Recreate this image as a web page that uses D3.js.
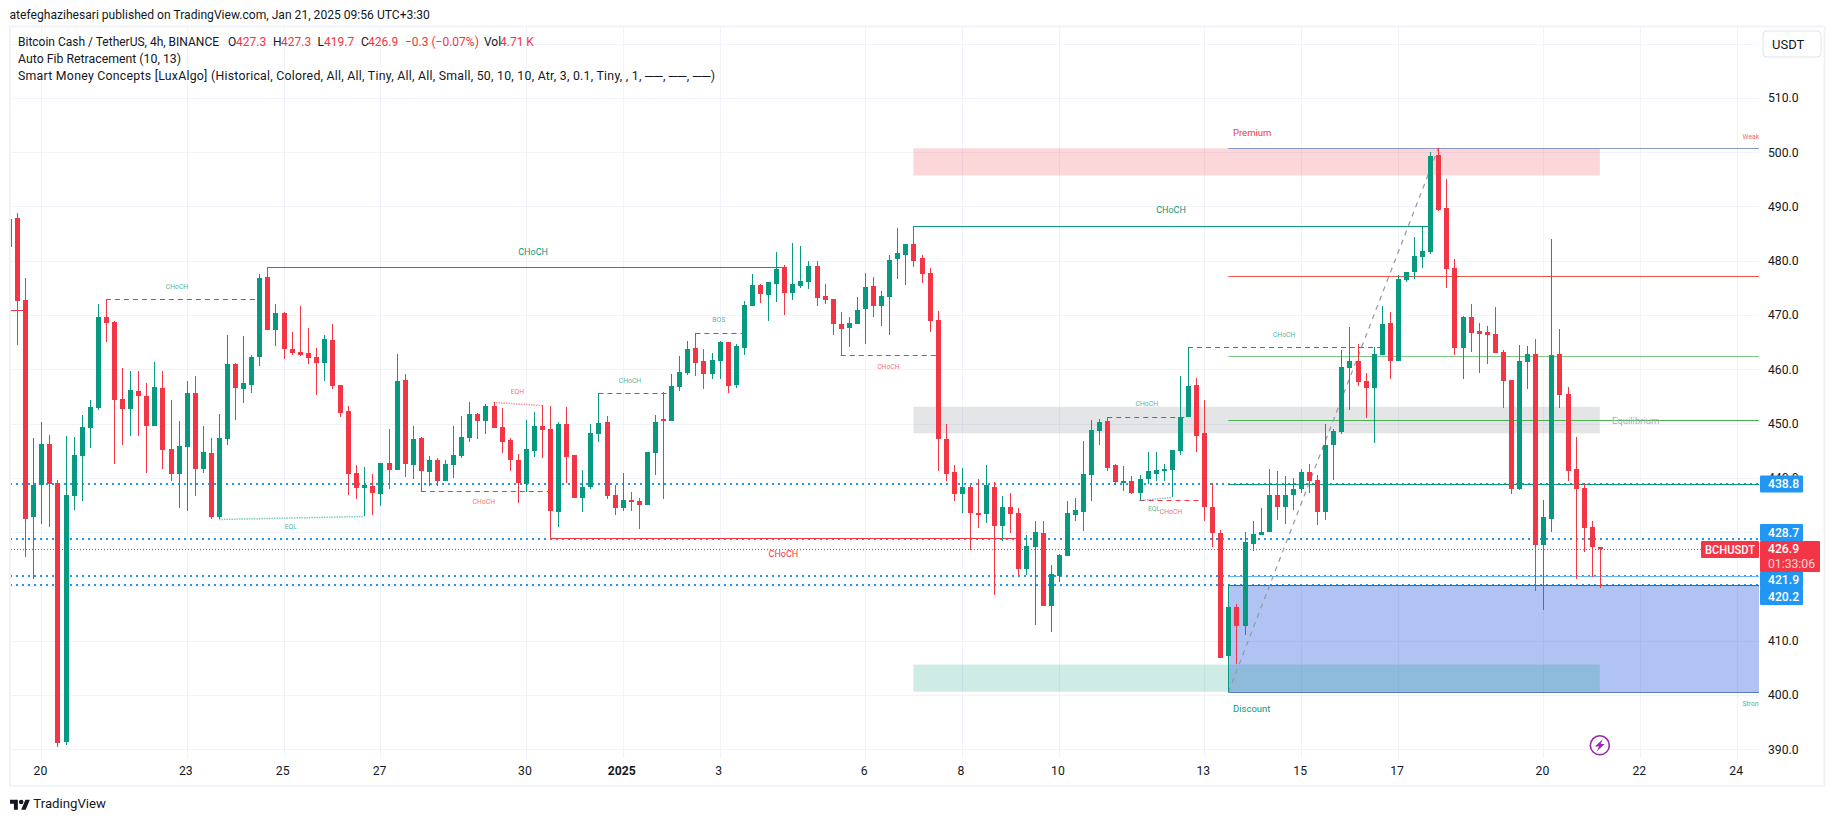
<!DOCTYPE html>
<html><head><meta charset="utf-8">
<script src="https://cdnjs.cloudflare.com/ajax/libs/d3/7.8.5/d3.min.js"></script>
<style>html,body{margin:0;padding:0;background:#fff;overflow:hidden}svg{display:block;font-family:Roboto,sans-serif}</style>
</head><body><div id="chart"></div>
<script>
// --- data -----------------------------------------------------------------
const firstIndex = -1; // the first candle is cut by the left pane edge
const opens = [482.6,
487.9,472.8,432.8,438.7,446.3,439.1,391.3,436.6,444.0,449.2,
452.9,469.6,468.7,454.5,452.7,456.0,455.1,449.5,456.6,445.3,
440.7,445.7,455.6,441.6,444.6,432.8,447.2,461.0,456.4,457.1,
462.2,477.0,467.2,470.4,463.7,463.2,463.0,462.2,461.2,465.4,
457.1,452.3,440.9,438.2,438.5,437.0,442.8,441.4,458.0,442.4,
447.4,441.1,443.3,439.5,442.4,444.0,447.4,451.8,450.5,453.2,
449.4,447.0,443.3,438.9,445.0,449.6,449.0,433.7,449.9,444.2,
436.3,438.3,448.1,450.3,436.9,434.5,435.9,435.8,435.0,444.6,
450.8,450.5,456.7,459.3,463.9,461.5,459.1,461.5,465.0,457.1,
463.9,471.6,475.5,473.7,475.7,478.8,474.0,475.3,476.1,479.0,
473.5,473.0,468.4,467.6,468.4,471.1,475.4,471.7,473.3,480.3,
481.0,483.0,480.5,477.7,469.1,447.2,441.0,437.0,438.4,433.6,
433.3,438.4,431.1,434.6,433.6,423.2,427.2,429.8,416.4,421.9,
425.6,433.1,433.8,440.6,448.7,450.5,442.3,439.2,439.5,437.3,
439.7,440.8,441.3,441.5,445.0,451.3,457.1,448.2,434.6,429.9,
407.1,416.3,412.8,427.9,429.4,430.0,436.8,434.7,436.9,437.9,
441.0,439.6,433.8,446.1,448.5,460.3,461.5,457.9,456.6,462.7,
468.6,461.5,476.5,478.0,480.7,481.6,499.5,489.7,478.7,464.0,
469.6,467.1,466.9,466.5,463.2,458.1,438.0,461.4,462.9,427.7,
432.5,462.9,455.5,441.7,438.2,431.0,427.3];
const highs = [487.7,
488.8,476.8,447.4,450.3,447.9,439.6,447.7,447.5,451.6,454.3,
472.0,472.9,468.9,460.3,459.7,459.7,457.5,461.3,459.7,454.3,
450.4,457.8,458.7,449.5,447.4,451.8,466.3,461.2,466.1,462.6,
477.6,478.8,472.0,470.5,466.8,471.6,467.6,464.0,466.3,468.3,
457.1,453.2,442.4,442.0,440.7,442.8,449.0,462.8,459.1,449.5,
447.6,444.0,443.7,443.3,449.6,451.4,454.0,452.0,453.6,454.0,
452.9,447.4,444.4,450.7,452.1,453.4,453.2,450.3,453.0,444.3,
441.5,449.9,455.6,451.4,438.7,440.9,437.4,436.3,444.8,451.6,
455.8,459.1,462.4,465.2,466.6,463.7,463.0,465.2,465.0,464.7,
472.6,477.5,475.7,476.1,481.6,479.2,483.2,482.7,479.9,480.0,
475.7,473.0,470.6,469.7,473.3,477.7,477.0,474.4,481.0,486.0,
483.0,486.4,481.0,478.7,470.7,450.0,442.3,441.9,438.6,439.7,
442.3,439.2,436.6,437.3,434.4,429.4,432.0,432.0,423.9,425.9,
435.7,436.2,446.7,450.7,450.9,451.3,442.6,442.1,440.4,440.6,
444.8,444.7,442.5,445.2,458.8,464.1,458.3,454.4,439.0,430.4,
420.4,416.8,430.0,432.1,434.5,441.7,441.3,440.4,439.9,441.7,
442.6,440.5,450.0,449.0,463.6,467.8,464.7,459.4,464.1,471.7,
470.6,477.3,478.0,484.3,486.3,500.0,500.7,495.0,480.4,469.8,
472.0,468.6,468.0,471.5,463.6,458.1,464.5,464.2,465.6,436.0,
484.0,467.5,456.8,447.6,439.0,432.0,427.3];
const lows = [482.6,
464.5,425.4,421.4,431.5,430.9,390.4,390.8,434.1,435.7,445.5,
452.5,465.0,442.6,446.0,447.7,447.7,440.9,449.5,441.6,439.4,
434.5,433.9,436.6,440.9,432.4,432.4,446.0,450.6,453.8,455.7,
460.6,467.2,464.3,461.9,462.6,462.4,461.0,455.3,457.8,456.4,
451.2,436.8,436.1,432.9,433.2,434.8,438.0,441.4,440.1,439.8,
437.5,438.5,438.5,439.5,440.0,443.7,446.6,447.2,448.1,449.2,
444.6,441.3,435.4,437.4,443.9,443.7,428.9,431.0,439.1,436.3,
433.7,438.0,446.6,436.1,433.2,433.9,433.9,430.6,435.0,440.5,
436.1,450.5,456.0,459.0,458.8,456.4,458.2,458.2,455.6,456.6,
462.6,471.6,472.2,468.9,472.4,470.0,472.8,475.0,474.8,471.7,
472.0,466.3,462.6,464.1,468.4,464.7,469.7,468.0,466.3,476.6,
475.5,478.8,475.9,466.9,441.3,439.5,435.7,433.5,426.7,430.7,
431.6,418.4,428.3,429.8,422.1,422.1,412.9,416.4,411.6,420.8,
425.6,432.0,430.2,435.7,446.0,441.2,438.6,437.5,437.0,435.9,
438.8,439.5,439.5,436.5,444.3,451.3,444.7,432.0,427.2,406.9,
400.5,405.8,411.0,426.5,429.4,430.0,432.3,431.5,434.0,437.2,
437.3,431.3,432.2,439.6,448.0,452.5,457.0,451.0,446.5,462.7,
458.2,461.5,476.0,476.7,478.6,481.3,489.2,474.9,462.7,458.2,
463.2,459.4,461.0,463.0,452.9,437.0,437.7,456.4,419.1,415.6,
430.0,452.8,439.5,421.3,426.4,421.7,419.7];
const closes = [487.7,
472.6,432.5,438.7,446.3,438.9,391.2,436.8,444.2,449.3,453.0,
469.6,468.6,454.3,452.7,456.2,455.1,449.5,456.7,445.1,440.7,
445.8,455.6,441.6,444.7,432.8,447.4,461.0,456.6,457.5,462.2,
476.8,467.2,470.4,463.7,463.0,462.6,462.1,461.2,465.6,456.9,
452.0,440.7,438.2,438.7,437.2,442.8,441.4,457.8,442.5,447.2,
441.3,443.3,439.5,442.6,444.2,447.5,451.8,450.5,453.2,449.2,
446.6,443.3,439.1,445.3,449.6,448.8,433.9,449.9,443.9,436.3,
438.3,448.3,450.1,436.7,434.5,435.9,435.6,435.0,444.8,450.3,
450.5,456.9,459.5,463.7,461.2,459.1,461.7,465.0,456.9,464.3,
471.8,475.5,473.9,476.1,478.5,474.0,475.7,476.3,479.0,473.1,
472.8,468.4,467.4,468.5,470.9,475.2,471.7,473.5,480.1,481.4,
483.0,480.0,477.5,468.9,447.1,440.8,437.0,438.4,433.5,433.3,
438.6,431.1,434.6,433.3,423.2,427.4,430.0,416.4,422.2,425.7,
433.5,434.0,440.8,448.9,450.2,441.9,439.2,439.5,437.3,439.7,
441.2,441.5,441.7,445.2,451.3,457.0,447.8,434.6,429.8,406.9,
416.3,412.8,428.1,429.6,430.0,436.8,434.7,436.9,438.0,441.0,
439.5,433.8,446.1,448.7,460.5,461.5,457.7,456.6,462.8,468.4,
461.5,476.7,478.0,480.9,481.8,499.3,489.4,478.5,464.0,469.6,
466.7,466.5,466.3,463.0,457.9,438.0,461.5,462.9,427.7,432.7,
462.7,455.3,441.3,438.0,430.8,427.2,426.9];

const priceTicks = [390,400,410,420,430,440,450,460,470,480,490,500,510,520];
const hiddenPriceTickLabels = [420,430,520]; // covered by the axis tags or the currency button
const dateTickIndex = [3,21,33,45,63,75,87,105,117,129,147,159,171,189,201,213];
const dateTickLabels = ["20","23","25","27","30","2025","3","6","8","10","13","15","17","20","22","24"];

// zones: [from, to, top price, bottom price]
const premiumZone = [111,196,500.7,495.7];
const equilibriumZone = [111,196,453.1,448.2];
const discountZone = [111,196,405.6,400.6];
const orderBlock = [150,260,420.2,400.5];

// fib-like levels starting at the swing low
const fibStart = 150;
const fibLevels = [500.7,477.1,462.4,450.6,438.85,421.9,420.2,400.5];
const fibColors = ["#8b97c4","#f0564a","#81c784","#4caf50","#089981","#64b5f6","#2962ff","#5b79b5"];
const fibDiagonal = [[150,400.5],[176,500.7]];

// alert price lines
const priceLineValues = [438.8,428.7,421.9,420.2];
const lastPrice = 426.9;

// market-structure lines: [from, to, price at from, price at to]
const solidGreen = [[31,95,478.8,478.8],[111,175,486.3,486.3]];
const solidRed = [[66,124,428.95,428.95]];
const dashGreen = [[11,30,472.9,472.9],[72,81,455.6,455.6],[84,90,466.6,466.6],[135,145,451.2,451.2],[145,169,464.1,464.1]];
const dashRed = [[50,66,437.5,437.5],[102,114,462.6,462.6],[139,147,436.0,436.0]];
const dotGreen = [[25,43,432.4,432.9],[139,143,436.0,436.5]];
const dotRed = [[59,65,453.9,453.4]];
const leftStub = [-1,1,471.0,471.0];

// text labels: [text, index, price, size class]
const greenLabels = [["CHoCH",19.8,475.2,"s"],["EQL",33.9,430.9,"s"],["CHoCH",75.9,457.8,"s"],["BOS",86.9,469.0,"s"],["CHoCH",139.9,453.6,"s"],["CHoCH",156.9,466.4,"s"],["EQL",140.8,434.2,"s"],["CHoCH",63.9,481.66,"m"],["CHoCH",142.9,489.3,"m"]];
const redLabels = [["CHoCH",57.8,435.6,"s"],["EQH",61.95,455.8,"s"],["CHoCH",107.9,460.4,"s"],["CHoCH",142.9,433.8,"s"],["CHoCH",94.9,426.0,"m"]];
const zoneLabels = [["Premium",503.6,"#f23645"],["Equilibrium",450.5,"#a8abb5"],["Discount",397.6,"#089981"]];
const edgeLabels = [["Weak High",502.8,"#f23645"],["Strong Low",398.4,"#089981"]];

const headerText = "atefeghazihesari published on TradingView.com, Jan 21, 2025 09:56 UTC+3:30";
const legendTitle = "Bitcoin Cash / TetherUS, 4h, BINANCE";
const legendFields = [["O",228,"k"],["427.3",236,"r"],["H",273,"k"],["427.3",281,"r"],["L",317.5,"k"],["419.7",324,"r"],["C",361,"k"],["426.9",368,"r"],["−0.3 (−0.07%)",405,"r"],["Vol",484,"k"],["4.71 K",500,"r"]];
const legendLines = ["Auto Fib Retracement (10, 13)","Smart Money Concepts [LuxAlgo] (Historical, Colored, All, All, Tiny, All, All, Small, 50, 10, 10, Atr, 3, 0.1, Tiny, , 1, ──, ──, ──)"];
const legendLineWidths = [163,697];

// --- layout ----------------------------------------------------------------
const W=1835,H=821, paneL=11, paneR=1759, paneT=27, paneB=758;
const RED="#f23645", GREEN="#089981", BLUE="#2196f3", GRID="#f0f3fa", TEXT="#131722";
const svg=d3.select("#chart").append("svg").attr("width",W).attr("height",H).style("background","#fff");
const x=d3.scaleLinear().domain([3,189]).range([41.3,1543.3]);
const y=d3.scaleLinear().domain([490,390]).range([206.4,749.3]);
const snap=v=>Math.round(v)+0.5;

svg.append("defs").append("clipPath").attr("id","pane").append("rect")
  .attr("x",paneL).attr("y",paneT).attr("width",paneR-paneL).attr("height",paneB-paneT);

// frame
svg.append("rect").attr("x",10).attr("y",26.5).attr("width",1814.5).attr("height",759.5)
  .attr("fill","none").attr("stroke",GRID).attr("stroke-width",2);

// axes (gridlines + labels)
const yAxis=d3.axisRight(y).tickValues(priceTicks.filter(d=>!hiddenPriceTickLabels.includes(d))).tickSize(0).tickPadding(0)
  .tickFormat(d3.format(".1f"));
const gy=svg.append("g").attr("transform",`translate(1768,0)`).call(yAxis);
gy.select(".domain").remove();
gy.selectAll("text").attr("font-family","Roboto").attr("font-size",12.2).attr("fill",TEXT);

const xAxis=d3.axisBottom(x).tickValues(dateTickIndex).tickSize(0).tickPadding(0)
  .tickFormat((d,i)=>dateTickLabels[i]);
const gx=svg.append("g").attr("transform",`translate(-1.4,766.5)`).call(xAxis);
gx.select(".domain").remove();
gx.selectAll("text").attr("font-family","Roboto").attr("font-size",12.2).attr("fill",TEXT)
  .attr("font-weight",(d,i)=>dateTickLabels[i]==="2025"?700:400);

const plot=svg.append("g").attr("clip-path","url(#pane)");
plot.append("g").selectAll("line").data(priceTicks).join("line")
  .attr("x1",paneL).attr("x2",paneR).attr("y1",d=>snap(y(d))).attr("y2",d=>snap(y(d))).attr("stroke",GRID);
plot.append("g").selectAll("line").data(dateTickIndex).join("line")
  .attr("y1",paneT).attr("y2",paneB).attr("x1",d=>Math.round(x(d))+.5).attr("x2",d=>Math.round(x(d))+.5).attr("stroke",GRID);

// zones
function zone(z,fill){plot.append("rect").attr("x",x(z[0])).attr("width",x(z[1])-x(z[0]))
  .attr("y",y(z[2])).attr("height",y(z[3])-y(z[2])).attr("fill",fill);}
zone(orderBlock,"rgba(42,92,222,.37)");
zone(premiumZone,"rgba(242,54,69,.2)");
zone(equilibriumZone,"rgba(120,123,134,.2)");
zone(discountZone,"rgba(8,153,129,.2)");

// price lines
plot.append("g").selectAll("line").data(priceLineValues).join("line")
  .attr("x1",paneL-1).attr("x2",paneR).attr("y1",d=>Math.round(y(d))).attr("y2",d=>Math.round(y(d)))
  .attr("stroke",BLUE).attr("stroke-width",2).attr("stroke-dasharray","2 4");
plot.append("line").attr("x1",paneL).attr("x2",1701).attr("y1",snap(y(lastPrice))).attr("y2",snap(y(lastPrice)))
  .attr("stroke",RED).attr("stroke-dasharray","1 2");

// fib levels
plot.append("g").selectAll("line").data(fibLevels).join("line")
  .attr("x1",x(fibStart)).attr("x2",paneR).attr("y1",d=>snap(y(d))).attr("y2",d=>snap(y(d)))
  .attr("stroke",(d,i)=>fibColors[i]);
plot.append("line").attr("x1",x(fibDiagonal[0][0])).attr("y1",y(fibDiagonal[0][1]))
  .attr("x2",x(fibDiagonal[1][0])).attr("y2",y(fibDiagonal[1][1]))
  .attr("stroke","#9598a1").attr("stroke-width",1.2).attr("stroke-dasharray","5 5");

// structures
function seg(data,color,dash,op,sw){
  plot.append("g").selectAll("line").data(data).join("line")
   .attr("x1",d=>x(d[0])).attr("x2",d=>x(d[1])).attr("y1",d=>snap(y(d[2]))).attr("y2",d=>snap(y(d[3])))
   .attr("stroke",color).attr("stroke-dasharray",dash).attr("stroke-opacity",op).attr("stroke-width",sw);
}
seg(solidGreen,GREEN,null,1,1);
seg(solidRed,RED,null,1,1);
seg([leftStub],RED,null,1,1);
seg(dashGreen,GREEN,"5 4",1,1);
seg(dashRed,RED,"5 4",1,1);
seg(dotGreen,GREEN,"1.5 1",.5,1.5);
seg(dotRed,RED,"1.5 1",.5,1.5);

// candles
const candleData=opens.map((o,i)=>({i:i+firstIndex,o,h:highs[i],l:lows[i],c:closes[i]}));
const cg=plot.append("g").selectAll("g").data(candleData).join("g")
  .attr("fill",d=>d.c>=d.o?GREEN:RED);
cg.append("rect").attr("x",d=>Math.round(x(d.i))).attr("width",1)
  .attr("y",d=>Math.round(y(d.h))).attr("height",d=>Math.max(1,Math.round(y(d.l))-Math.round(y(d.h))));
cg.append("rect").attr("x",d=>Math.round(x(d.i))-2).attr("width",5)
  .attr("y",d=>Math.round(y(Math.max(d.o,d.c))))
  .attr("height",d=>Math.max(2,Math.round(y(Math.min(d.o,d.c)))-Math.round(y(Math.max(d.o,d.c)))));

// structure text
function labels(data,color){
  plot.append("g").selectAll("text").data(data).join("text")
    .attr("x",d=>x(d[1])).attr("y",d=>y(d[2])).attr("text-anchor","middle").attr("dominant-baseline","central")
    .attr("font-size",d=>d[3]==="m"?9:6.8).attr("fill",color).attr("fill-opacity",d=>d[3]==="m"?1:.75).text(d=>d[0]);
}
labels(greenLabels,GREEN);
labels(redLabels,RED);
plot.append("g").selectAll("text").data(zoneLabels).join("text")
  .attr("x",d=>d[0]==="Equilibrium"?1612:1233).attr("y",d=>y(d[1])).attr("dominant-baseline","central")
  .attr("font-size",9.5).attr("fill",d=>d[2]).text(d=>d[0]);
plot.append("g").selectAll("text").data(edgeLabels).join("text")
  .attr("x",1742.5).attr("y",d=>y(d[1])).attr("dominant-baseline","central")
  .attr("font-size",6.8).attr("fill",d=>d[2]).attr("fill-opacity",.8).text(d=>d[0]);

// lightning marker
const bolt=svg.append("g").attr("transform",`translate(${x(196)},745.3)`);
bolt.append("circle").attr("r",9.5).attr("fill","#fff").attr("stroke","#9c27b0").attr("stroke-width",1.6);
bolt.append("path").attr("d","M3-6 L-5 1.2 H-0.8 L-3 6 L5-1.2 H0.8 Z").attr("fill","#9c27b0");

// axis tags
function tag(px,py,w,h,fill,r){return svg.append("rect").attr("x",px).attr("y",py).attr("width",w).attr("height",h).attr("fill",fill).attr("rx",r||1);}
const tagH=17;
priceLineValues.forEach(v=>{
  let cy=Math.round(y(v));
  if(v===421.9) cy=580; if(v===420.2) cy=596.5;
  if(v===428.7) cy=532.5;
  tag(1760,cy-tagH/2,43,tagH,BLUE);
  svg.append("text").attr("x",1768).attr("y",cy).attr("dominant-baseline","central").attr("font-size",12.2).attr("font-weight",500).attr("fill","#fff").text(d3.format(".1f")(v));
});
tag(1760,541,60,31,RED);
svg.append("text").attr("x",1768).attr("y",549).attr("dominant-baseline","central").attr("font-size",12.2).attr("font-weight",500).attr("fill","#fff").text(d3.format(".1f")(lastPrice));
svg.append("text").attr("x",1768).attr("y",563.7).attr("dominant-baseline","central").attr("font-size",12.2).attr("fill","#fff").attr("fill-opacity",.8).text("01:33:06");
tag(1701,541,58,17,RED);
svg.append("text").attr("x",1705).attr("y",549.5).attr("dominant-baseline","central").attr("font-size",12).attr("font-weight",500).attr("fill","#fff").attr("textLength",50).attr("lengthAdjust","spacingAndGlyphs").text("BCHUSDT");

// currency button
svg.append("rect").attr("x",1763).attr("y",31).attr("width",58).attr("height",26).attr("rx",4).attr("fill","#fff").attr("stroke","#e0e3eb");
svg.append("text").attr("x",1772).attr("y",44.5).attr("dominant-baseline","central").attr("font-size",13).attr("fill",TEXT).text("USDT");

// header + legend
const txt=(s,px,py,size,fill)=>svg.append("text").attr("x",px).attr("y",py).attr("dominant-baseline","central").attr("font-size",size).attr("fill",fill||TEXT).text(s);
txt(headerText,9.5,15,12.1);
txt(legendTitle,18,41.5,12);
legendFields.forEach(f=>txt(f[0],f[1],41.5,12,f[2]==="r"?RED:TEXT));
legendLines.forEach((s,i)=>txt(s,18,59+i*17,12.3).attr("textLength",legendLineWidths[i]).attr("lengthAdjust","spacing"));

// logo
const logo=svg.append("g").attr("transform","translate(10,797.5) scale(.56)").attr("fill",TEXT);
logo.append("path").attr("d","M14 22H7V11H0V4h14v18zM28 22h-8l7.5-18h8L28 22z");
logo.append("circle").attr("cx",20).attr("cy",8).attr("r",4);
txt("TradingView",33.3,803.5,13.2,"#131722");
</script></body></html>
